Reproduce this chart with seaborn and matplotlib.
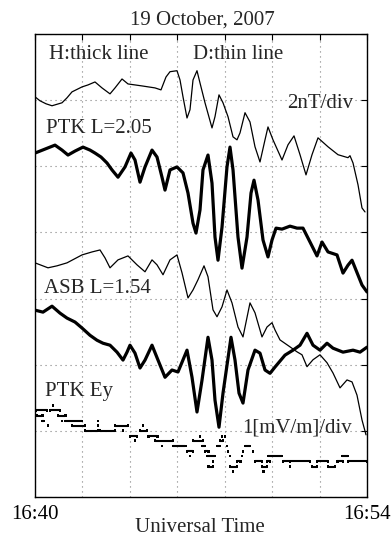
import numpy as np
import pandas as pd
import matplotlib
matplotlib.use("Agg")
import matplotlib.pyplot as plt
import seaborn as sns

# ---------------- data (time in minutes after 16:40 UT, field in nT) ----------------
ptk_d_t = [0.000, 0.211, 0.464, 0.717, 1.139, 1.349, 1.560, 1.982, 2.235, 2.530, 2.825, 3.163,
           3.374, 3.669, 3.922, 4.512, 5.060, 5.313, 5.524, 5.693, 5.988, 6.115, 6.241, 6.410,
           6.536, 6.663, 6.831, 6.958, 7.169, 7.464, 7.590, 7.759, 7.928, 8.139, 8.350, 8.518,
           8.645, 8.856, 9.066, 9.277, 9.488, 9.699, 9.825, 10.036, 10.416, 10.669, 10.922,
           11.175, 11.428, 11.681, 11.934, 12.355, 12.777, 13.199, 13.283, 13.410, 13.621,
           13.789, 13.916]
ptk_d = [0.00, -0.12, -0.21, -0.27, -0.18, -0.03, 0.15, 0.30, 0.36, 0.45, 0.27, 0.09,
         0.27, 0.54, 0.39, 0.33, 0.27, 0.21, 0.60, 0.76, 0.79, 0.51, 0.00, -0.64,
         -0.39, 0.51, 0.79, 0.42, -0.18, -0.94, -0.60, 0.06, -0.18, -0.60, -1.21, -1.30,
         -1.09, -0.48, -0.76, -1.51, -1.97, -1.30, -0.91, -1.30, -1.91, -1.45, -1.18,
         -1.75, -2.36, -1.75, -1.24, -1.51, -1.75, -1.84, -1.78, -2.00, -2.66,
         -3.36, -3.48]

ptk_h_t = [0.000, 0.422, 0.843, 1.139, 1.392, 1.687, 2.024, 2.319, 2.530, 2.783, 3.036, 3.247,
           3.500, 3.795, 4.048, 4.217, 4.428, 4.639, 4.934, 5.145, 5.355, 5.482, 5.693, 5.988,
           6.241, 6.452, 6.663, 6.789, 6.958, 7.084, 7.295, 7.464, 7.590, 7.717, 7.886, 8.096,
           8.223, 8.350, 8.560, 8.729, 8.940, 9.109, 9.235, 9.404, 9.615, 9.825, 9.994, 10.163,
           10.416, 10.753, 11.048, 11.301, 11.597, 11.892, 12.103, 12.356, 12.735, 12.988,
           13.199, 13.368, 13.621, 13.789, 14.000]
ptk_h = [0.00, 0.12, 0.24, 0.09, -0.06, 0.06, 0.18, 0.09, 0.00, -0.12, -0.30, -0.51,
         -0.73, -0.42, 0.00, -0.21, -0.88, -0.42, 0.09, -0.12, -0.73, -1.12, -0.51, -0.42,
         -0.60, -1.21, -2.12, -2.42, -1.72, -0.51, -0.06, -0.91, -2.54, -3.24, -2.24, -0.42,
         0.18, -0.51, -2.54, -3.48, -2.54, -1.21, -0.82, -1.42, -2.63, -3.14, -2.63, -2.27,
         -2.30, -2.21, -2.27, -2.27, -2.69, -3.11, -2.69, -2.99, -3.08, -3.63,
         -3.39, -3.24, -3.69, -3.99, -4.20]

asb_d_t = [0.000, 0.548, 0.928, 1.349, 1.982, 2.404, 2.741, 2.952, 3.163, 3.500, 3.922, 4.301,
           4.639, 4.934, 5.145, 5.398, 5.693, 5.988, 6.199, 6.452, 6.663, 6.873, 7.127, 7.295,
           7.506, 7.675, 7.886, 8.096, 8.307, 8.560, 8.771, 9.066, 9.277, 9.572, 9.783, 9.994,
           10.121, 10.331, 10.753, 11.048, 11.259, 11.470, 11.723, 12.018, 12.313, 12.566,
           12.862, 13.157, 13.368, 13.578, 13.789, 13.958]
asb_d = [0.00, -0.15, -0.09, 0.00, 0.24, 0.33, 0.39, 0.15, -0.15, 0.09, 0.21, -0.06,
         -0.27, 0.09, -0.06, -0.36, 0.09, 0.24, -0.30, -1.06, -0.82, -0.51, -0.09, -0.42,
         -1.42, -1.63, -1.33, -0.82, -1.21, -1.94, -2.24, -1.21, -1.51, -2.24, -1.94, -1.81,
         -2.03, -2.33, -2.54, -2.69, -2.78, -3.14, -2.93, -2.78, -3.02, -3.33,
         -3.78, -3.54, -3.60, -4.00, -4.75, -5.20]

asb_h_t = [0.000, 0.337, 0.717, 1.054, 1.349, 1.687, 1.982, 2.319, 2.614, 2.867, 3.163, 3.458,
           3.711, 3.880, 4.006, 4.217, 4.428, 4.639, 4.934, 5.187, 5.482, 5.777, 6.030, 6.410,
           6.621, 6.831, 7.042, 7.295, 7.464, 7.590, 7.759, 7.928, 8.265, 8.434, 8.603, 8.771,
           8.982, 9.277, 9.488, 9.699, 9.910, 10.121, 10.542, 10.880, 11.175, 11.470, 11.723,
           12.018, 12.313, 12.566, 12.988, 13.410, 13.705, 14.000]
asb_h = [0.00, -0.06, 0.12, -0.09, -0.24, -0.36, -0.54, -0.76, -0.91, -1.00, -1.06, -1.27,
         -1.51, -1.27, -1.06, -1.30, -1.75, -1.51, -1.06, -1.51, -2.03, -1.81, -1.87, -1.21,
         -2.03, -3.08, -2.12, -0.82, -1.51, -2.72, -3.54, -2.51, -0.82, -1.51, -2.51, -2.81,
         -1.81, -1.21, -1.30, -1.81, -1.91, -1.72, -1.36, -1.21, -1.06, -0.70, -1.06,
         -1.21, -1.00, -1.15, -1.27, -1.21, -1.27, -1.12]

# PTK Ey (mV/m), quantised samples given as runs: start, end, value
ey_t0 = [0.04, 0.08, 0.30, 0.55, 0.63, 0.76, 0.97, 1.14, 1.27, 1.56, 2.11, 2.66, 2.66, 2.74,
         3.37, 3.71, 4.01, 4.22, 4.43, 4.55, 4.77, 5.06, 5.36, 5.82, 6.41, 6.54, 6.66, 6.96,
         7.04, 7.17, 7.25, 7.30, 7.51, 7.68, 7.80, 7.89, 8.01, 8.10, 8.14, 8.22, 8.22, 8.35,
         8.52, 8.73, 8.77, 8.86, 9.19, 9.28, 9.57, 9.62, 9.78, 9.83, 10.46, 10.75, 10.75,
         11.68, 11.89, 12.36, 12.74, 12.95, 13.20]
ey_t1 = [0.51, 0.30, 0.38, 0.55, 1.05, 0.76, 1.27, 1.14, 1.98, 2.11, 2.66, 2.66, 2.66, 3.37,
         3.92, 3.71, 4.30, 4.22, 4.72, 4.55, 5.15, 5.82, 5.36, 6.33, 6.66, 6.54, 7.08, 6.96,
         7.17, 7.30, 7.59, 7.51, 7.51, 7.80, 7.93, 7.89, 8.01, 8.10, 8.14, 8.22, 8.52, 8.35,
         8.65, 8.73, 8.77, 9.07, 9.19, 9.57, 9.78, 9.62, 9.91, 10.42, 10.75, 10.75, 11.60,
         11.89, 12.36, 12.65, 12.99, 13.20, 14.00]
ey_val = [0.31, 0.23, 0.15, 0.08, 0.31, 0.38, 0.23, 0.15, 0.15, 0.08, 0.00, 0.15, 0.08, 0.00,
          0.08, 0.00, -0.08, -0.15, 0.00, 0.08, -0.08, -0.15, -0.23, -0.23, -0.31, -0.38, -0.15, -0.08,
          -0.23, -0.31, -0.38, -0.54, -0.46, -0.23, -0.15, -0.08, -0.08, -0.23, -0.31, -0.38, -0.54, -0.62,
          -0.46, -0.38, -0.31, -0.23, -0.31, -0.46, -0.54, -0.62, -0.46, -0.38, -0.46, -0.54, -0.46,
          -0.54, -0.46, -0.54, -0.46, -0.38, -0.46]

# trace baselines on the stacked axis (nT), scale factors
ptk_d_offset, ptk_h_offset = 12.10, 10.40
asb_d_offset, asb_h_offset = 7.08, 5.65
ey_offset, ey_scale = 2.00, 2.0   # 1 mV/m per division of 2 nT

xtick_labels = ["16:40", "", "", "", "", "", "", "16:54"]

# ---------------- figure ----------------
sns.set_style("white")
plt.rcParams["font.family"] = ["Liberation Serif", "DejaVu Serif"]
plt.rcParams["axes.linewidth"] = 1.0
plt.rcParams["lines.solid_joinstyle"] = "round"
plt.rcParams["lines.solid_capstyle"] = "round"

W, H = 392, 538
fig = plt.figure(figsize=(W / 100, H / 100), dpi=100)
ax = fig.add_axes([35 / W, 1 - 497 / H, 332 / W, 463 / H])

frames = []
for name, t, v, off in [("ptk_d", ptk_d_t, ptk_d, ptk_d_offset),
                        ("ptk_h", ptk_h_t, ptk_h, ptk_h_offset),
                        ("asb_d", asb_d_t, asb_d, asb_d_offset),
                        ("asb_h", asb_h_t, asb_h, asb_h_offset)]:
    frames.append(pd.DataFrame({"t": t, "y": np.asarray(v) + off, "trace": name}))
df = pd.concat(frames, ignore_index=True)

for name, lw in [("ptk_d", 0.9), ("ptk_h", 2.3), ("asb_d", 0.9), ("asb_h", 2.3)]:
    sns.lineplot(data=df[df.trace == name], x="t", y="y", color="black", lw=lw,
                 estimator=None, sort=True, ax=ax, legend=False)

ey_y = ey_offset + ey_scale * np.asarray(ey_val)
ax.hlines(ey_y, ey_t0, ey_t1, color="black", lw=1.5)
sns.scatterplot(x=ey_t0 + ey_t1, y=np.concatenate([ey_y, ey_y]), marker="s", s=4,
                color="black", edgecolor="none", ax=ax, legend=False)

ax.set_xlim(0, 14)
ax.set_ylim(0, 14)
ax.set_xticks(np.arange(0, 15, 2))
ax.set_xticklabels(xtick_labels)
ax.set_yticks(np.arange(0, 15, 2))
ax.set_yticklabels([])
ax.tick_params(direction="in", length=4, width=0.8, top=True, right=True,
               labelsize=15, pad=6, colors="black")
ax.grid(True, color="0.5", linestyle=(0, (1, 3.5)), lw=0.8)
ax.set_xlabel("")
ax.set_ylabel("")
for s in ax.spines.values():
    s.set_visible(True)
    s.set_color("black")

fs = 15
def ftext(x, y, s, **kw):
    fig.text(x / W, 1 - y / H, s, fontsize=fs, va="baseline", **kw)

ftext(202, 25, "19 October, 2007", ha="center")
ftext(49, 59, "H:thick line")
ftext(193, 59, "D:thin line")
ftext(287, 108, "2nT/div")
ftext(46, 133, "PTK L=2.05")
ftext(44, 293, "ASB L=1.54")
ftext(45, 396, "PTK Ey")
ftext(242, 433, "1[mV/m]/div")
ftext(200, 532, "Universal Time", ha="center")

fig.savefig("out.png", dpi=100)
